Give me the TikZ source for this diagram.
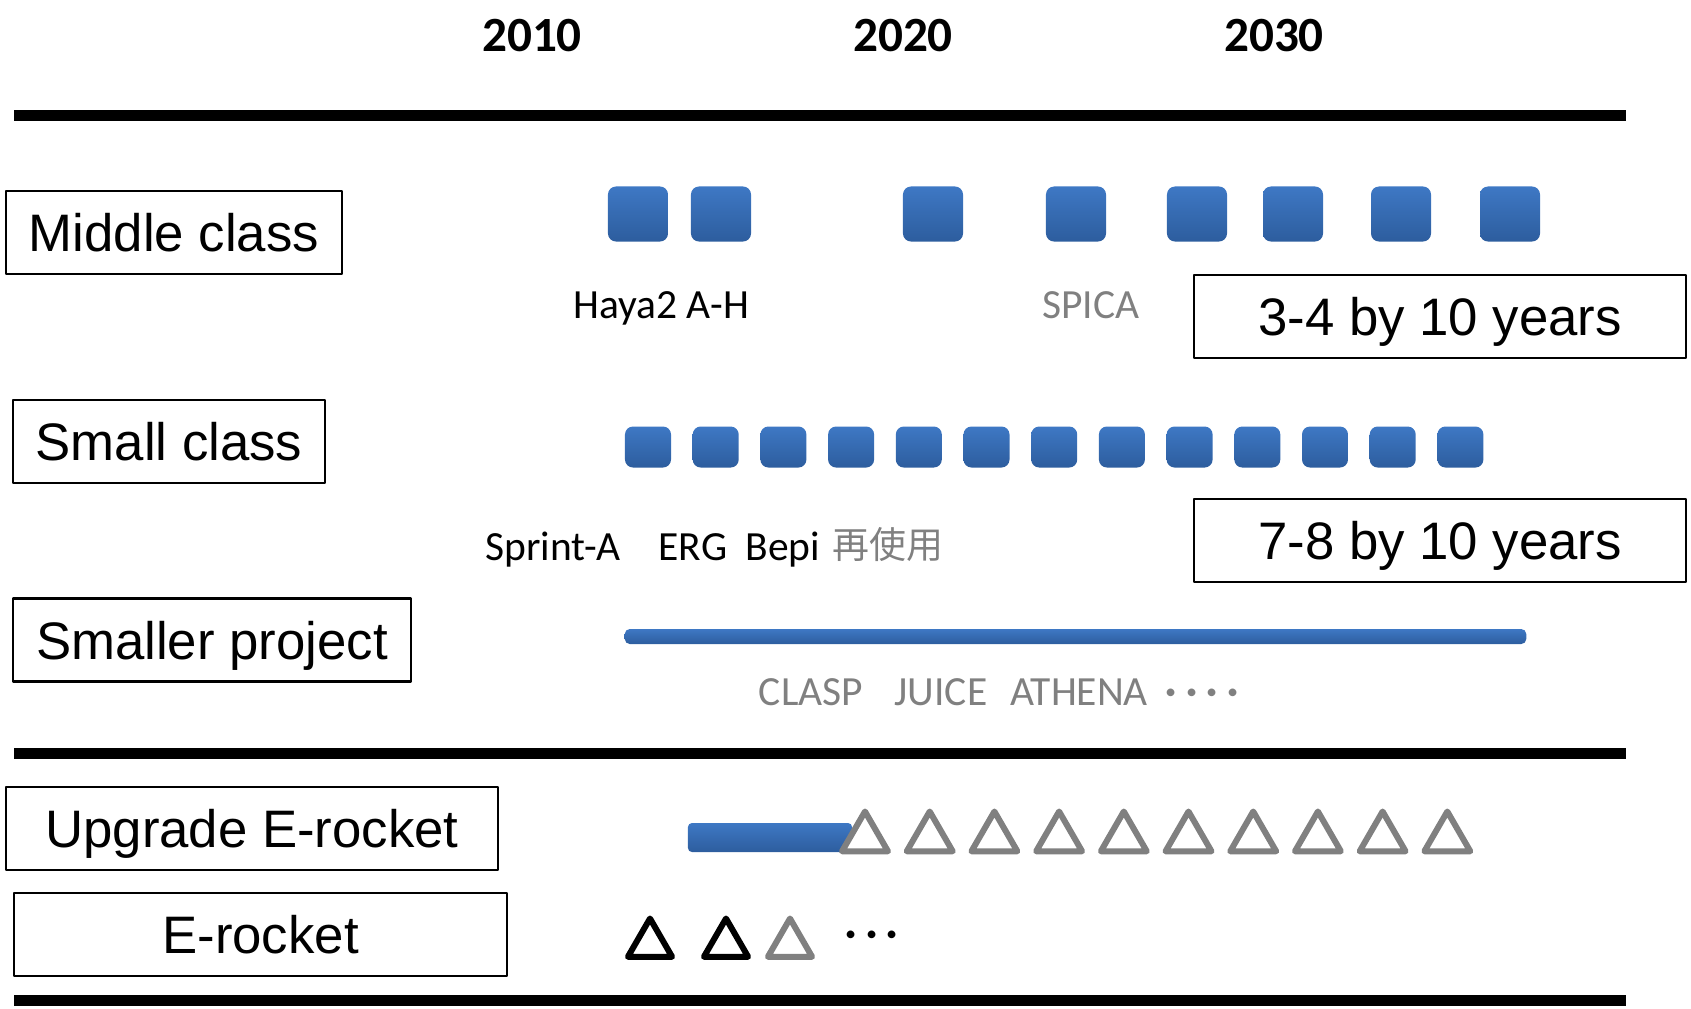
\documentclass[tikz,border=0pt]{standalone}
\usepackage{xcolor}
\usepackage{fontspec}
\setmainfont{Liberation Sans}
\newfontfamily\calib{Carlito}
\newfontfamily\cjk{Noto Sans CJK JP}
\usepackage{tikz}
\usetikzlibrary{shapes}

\definecolor{missionblue}{RGB}{62,120,196}
\definecolor{missionbluedark}{RGB}{45,93,158}
\definecolor{labelgray}{RGB}{128,128,128}

\begin{document}
\begin{tikzpicture}[x=0.01cm,y=-0.01cm,line join=round]
 \tikzstyle{every node}=[inner sep=0pt]
 \tikzstyle{rowlabel}=[draw=black,line width=0.6pt,minimum height=0.83cm,text height=10.8pt,text depth=0pt,font=\fontsize{15}{18}\selectfont]
 \tikzstyle{mission}=[draw=none,rounded corners=0.08cm,top color=missionblue,bottom color=missionbluedark]
 \tikzstyle{year}=[font=\calib\bfseries\fontsize{14}{16}\selectfont]
 \tikzstyle{proj}=[font=\calib\fontsize{11.8}{14}\selectfont,text height=7.6pt,text depth=0pt]
 \tikzstyle{dots}=[font=\calib\bfseries\fontsize{11.8}{14}\selectfont]
 \tikzstyle{launch}=[regular polygon,regular polygon sides=3,line width=0.06cm,fill=white]

 \useasboundingbox (0,0) rectangle (1691,1008);

 % time axis
 \node (y2010) at (532,36) [year] {2010};
 \node (y2020) at (903,36) [year] {2020};
 \node (y2030) at (1274,36) [year] {2030};
 \draw [line width=0.11cm] (14,115) -- (1626,115);
 \draw [line width=0.11cm] (14,753) -- (1626,753);
 \draw [line width=0.11cm] (14,1000) -- (1626,1000);

 % row names
 \node (middle) at (174,232.5) [rowlabel,minimum width=3.36cm] {Middle class};
 \node (small) at (169,441.5) [rowlabel,minimum width=3.12cm] {Small class};
 \node (smaller) at (212,640) [rowlabel,minimum width=3.98cm] {Smaller project};
 \node (upgrade) at (252,828.5) [rowlabel,minimum width=4.92cm] {Upgrade E-rocket};
 \node (erocket) at (260.5,934.5) [rowlabel,minimum width=4.93cm] {E-rocket};

 \node (midrate) at (1440,316.5) [rowlabel,minimum width=4.92cm] {3-4 by 10 years};
 \node (smallrate) at (1440,540.5) [rowlabel,minimum width=4.92cm] {7-8 by 10 years};

 % middle class
 \foreach \x [count=\i] in {638,721,933,1076,1197,1293,1401,1510}
   \node (mid\i) at (\x,214) [mission,minimum width=0.6cm,minimum height=0.55cm] {};
 \node (haya) at (661,305) [proj] {Haya2 A-H};
 \node (spica) at (1091,305) [proj,text=labelgray] {SPICA};

 % small class
 \foreach \i in {0,...,12}
   \node (sm\i) at ({648+67.7*\i},447) [mission,minimum width=0.46cm,minimum height=0.41cm] {};
 \node (sprint) at (553,547) [proj] {Sprint-A};
 \node (erg) at (693,547) [proj] {ERG};
 \node (bepi) at (783,547) [proj] {Bepi};
 \node (reuse) at (888,558) [anchor=base,font=\cjk\fontsize{10.5}{12}\selectfont,text=labelgray] {再使用};

 % smaller projects
 \node (bar) at (1075.5,636.5) [mission,rounded corners=0.05cm,minimum width=9.01cm,minimum height=0.15cm] {};
 \node (clasp) at (811,692) [proj,text=labelgray] {CLASP};
 \node (juice) at (941,692) [proj,text=labelgray] {JUICE};
 \node (athena) at (1079,692) [proj,text=labelgray] {ATHENA};
 \node (moredots) at (1202,697) [dots,text=labelgray] {· · · ·};

 % rockets
 \node (upbar) at (770,837.5) [mission,rounded corners=0.04cm,minimum width=1.64cm,minimum height=0.29cm] {};
 \foreach \i in {0,...,9}
   \node (up\i) at ({865+64.7*\i},838) [launch,draw=labelgray,minimum size=0.53cm] {};
 \node (e1) at (650,944) [launch,draw=black,minimum size=0.51cm] {};
 \node (e2) at (726,944) [launch,draw=black,minimum size=0.51cm] {};
 \node (e3) at (790,944) [launch,draw=labelgray,minimum size=0.51cm] {};
 \node (edots) at (872,939) [dots] {· · ·};
\end{tikzpicture}
\end{document}
